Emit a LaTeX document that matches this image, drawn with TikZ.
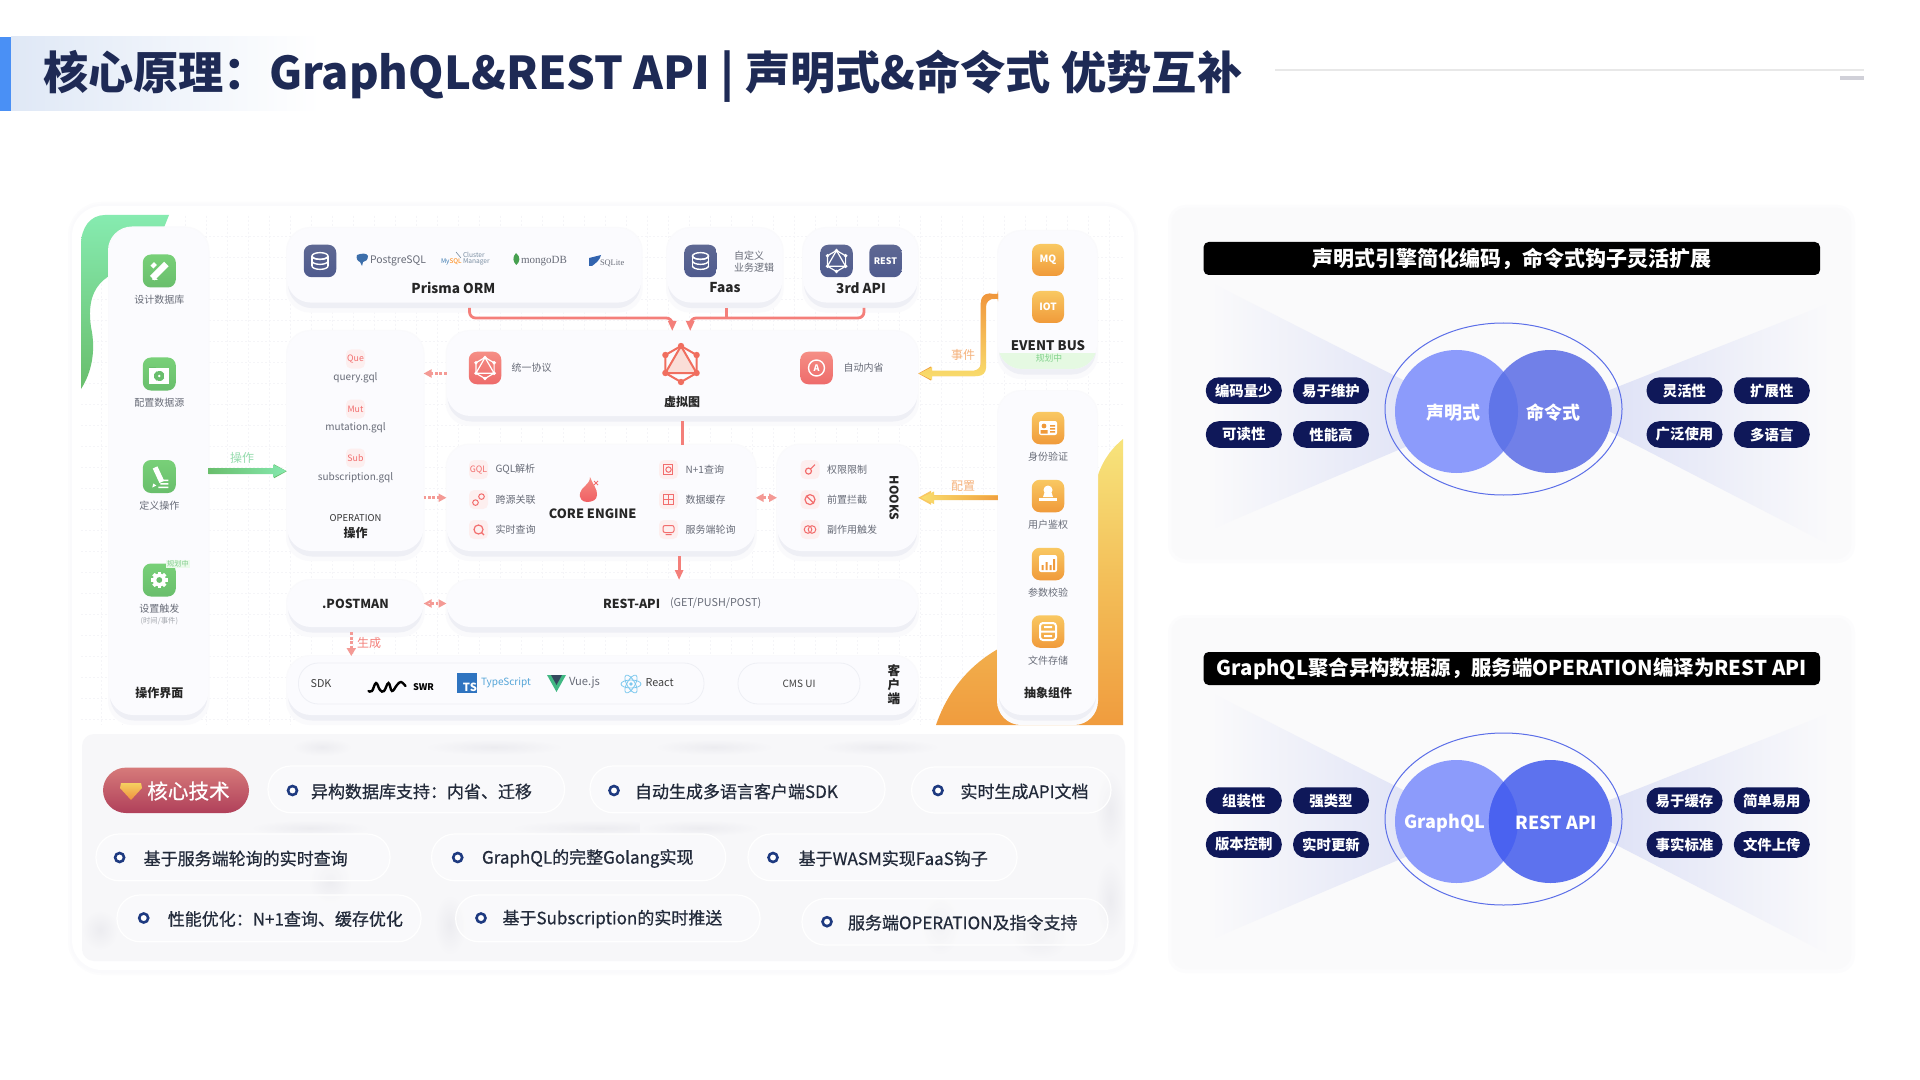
\documentclass[tikz,border=0pt]{standalone}
\usepackage{fontspec}
\setmainfont{Noto Sans CJK SC}
\newfontfamily\medf[FakeBold=0.7]{Noto Sans CJK SC}
\newfontfamily\serf{Liberation Serif}
\usetikzlibrary{arrows.meta,calc,shapes.geometric}
\newcommand\hc[2]{\definecolor{#1}{HTML}{#2}}
\hc{navy}{1E2A55}\hc{pilln}{0F1859}\hc{redc}{F47F7A}\hc{redd}{F49A95}\hc{grayt}{686C78}\hc{cardf}{FBFBFE}
\hc{shdA}{EEEFF5}\hc{shdB}{FAFAFC}\hc{shdC}{FCFCFD}\hc{orgA}{F9C862}\hc{orgB}{F09A3A}\hc{grnA}{78D078}\hc{grnB}{69BE6C}
\hc{bluA}{5E6893}\hc{bluB}{4F5B8E}\hc{rdA}{F58E85}\hc{rdB}{EE6B6B}\hc{tagf}{FDEFEF}\hc{tagt}{F26D6D}
\hc{ringc}{5B6EE8}\hc{panf}{FAFAFB}\hc{wedge}{D9DDF5}\hc{ghost}{ECECF0}\hc{lowf}{F7F7F9}\hc{dotc}{1E3A80}\hc{pillt}{222A3A}
\hc{hdrA}{DFE8F6}\hc{hdrB}{4A90F5}\hc{lineG}{E8E8E8}\hc{dashG}{D0D0D8}\hc{gridc}{F5F5F8}\hc{gtop}{86EBB0}
\hc{oTop}{F7E47C}\hc{oBot}{F09C3E}\hc{oMid}{F3BE58}\hc{planF}{EAFAEA}\hc{planT}{82CD8C}
\hc{pgc}{3C6EAA}\hc{myc}{3C7AB0}\hc{clc}{788CA0}\hc{mgc}{46A050}\hc{sqc}{3264AF}
\hc{stripF}{E5F9E2}\hc{stripT}{82D28C}\hc{tri}{FADED8}\hc{gqlR}{F06E5F}\hc{flA}{F58C82}\hc{flB}{F05F64}
\hc{tsc}{2F74C0}\hc{tst}{55A5D8}\hc{vuA}{41B883}\hc{vuB}{35495E}\hc{rec}{7CC8EE}
\hc{grL}{96DCAE}\hc{grR}{85E8AE}\hc{evA}{F0963C}\hc{evB}{F9DE6E}\hc{orL}{F5B27C}\hc{cfB}{F0A040}
\hc{coA}{D67A7A}\hc{coB}{B0405A}\hc{diA}{F5D060}\hc{diB}{F09040}
\hc{rA}{7180E8}\hc{lA}{6075E8}\hc{rB}{5D72EE}\hc{lB}{4A62F0}\hc{aL}{8C9BFB}\hc{bL}{8C9BFB}
\newcounter{tc}
\tikzset{
  fz/.style={font=\fontsize{#1}{#1}\selectfont},
  fzb/.style={font=\fontsize{#1}{#1}\selectfont\bfseries},
  fzm/.style={font=\fontsize{#1}{#1}\selectfont\medf},
  txtn/.style={inner sep=0pt,outer sep=0pt,text=grayt},
  cardn/.style={fill=cardf,rounded corners=12pt,inner sep=0pt,outer sep=0pt},
  icbase/.style={rounded corners=4pt,inner sep=0pt,outer sep=0pt,shade},
  icg/.style={icbase,top color=grnA,bottom color=grnB},
  icn/.style={icbase,top color=bluA,bottom color=bluB},
  icr/.style={icbase,top color=rdA,bottom color=rdB},
  ico/.style={icbase,top color=orgA,bottom color=orgB},
  tagn/.style={fill=tagf,rounded corners=2.5pt,inner sep=0pt,outer sep=0pt,minimum size=9.5pt},
  redl/.style={draw=redc,line width=1.4pt,rounded corners=3pt},
  reda/.style={redl,-{Triangle[length=5pt,width=4pt]}},
  dotl/.style={draw=redd,line width=1.4pt,dash pattern=on 1.4pt off 0.8pt},
  pillw/.style={fill=white,fill opacity=.35,draw=white,line width=.6pt,rounded corners=11.5pt,inner sep=0pt,outer sep=0pt},
  navypill/.style={fill=pilln,rounded corners=6.5pt,inner sep=0pt,outer sep=0pt,minimum width=38pt,minimum height=13.3pt,text=white,font=\fontsize{7.2pt}{7.2pt}\selectfont\bfseries},
}
\newcommand\lbl[4][]{\stepcounter{tc}\node[txtn,#1] (t\arabic{tc}) at (#2,#3) {#4};}
\newcommand\card[5]{%
  \fill[shdB,rounded corners=12pt] ({#2-1},{#3-1}) rectangle ({#4+1},{#5+10});
  \fill[shdA,rounded corners=12pt] ({#2+1},{#3+4}) rectangle ({#4-1},{#5+5.5});
  \node[cardn,minimum width={(#4-#2)*.5pt},minimum height={(#5-#3)*.5pt}] (#1) at ({(#2+#4)/2},{(#3+#5)/2}) {};}
\newcommand\icon[5]{\node[#5,minimum size={#4*.5pt}] (#1) at (#2,#3) {};}
\newcommand\dbg[3]{%
  \begin{scope}[shift={(#1,#2)}]
  \foreach \yy in {5,0,-5}{\draw[white,line width=.7pt] (-#3,\yy) arc[start angle=180,end angle=0,x radius=#3,y radius=#3*.42];}
  \draw[white,line width=.7pt] (0,-5) ellipse[x radius=#3,y radius=#3*.42];
  \draw[white,line width=.7pt] (-#3,-5) -- (-#3,5) (#3,-5) -- (#3,5);
  \end{scope}}
\newcommand\gql[6]{%
  \begin{scope}[shift={(#1,#2)}]
  \draw[#4,line width=#6] (90:#3) -- (150:#3) -- (210:#3) -- (270:#3) -- (330:#3) -- (30:#3) -- cycle;
  \draw[#4,line width=#6] (270:#3) -- (150:#3) -- (30:#3) -- cycle;
  \foreach \a in {90,150,210,270,330,30}{\fill[#4] (\a:#3) circle (#5);}
  \end{scope}}
\newcommand\gear[5]{%
  \begin{scope}[shift={(#1,#2)}]
  \foreach \a in {0,45,90,135}{\fill[#4,rotate=\a] (-1.8,{-#3-1.8}) rectangle (1.8,{#3+1.8});}
  \fill[#4] (0,0) circle (#3);\fill[#5] (0,0) circle ({#3*.45});
  \end{scope}}
\newcommand\tagtx[4]{\node[tagn,text=tagt,font=\fontsize{4.4pt}{4.4pt}\selectfont] (#1) at (#2,#3) {#4};}
\newcommand\dotpill[9]{%
  \node[pillw,minimum width={(#4-#2)*.5pt},minimum height={(#5-#3)*.5pt}] (#1) at ({(#2+#4)/2},{(#3+#5)/2}) {};
  \stepcounter{tc}\node[circle,draw=dotc,line width=1.3pt,fill=white,minimum size=4.5pt,inner sep=0pt] (d\arabic{tc}) at (#6,#8) {};
  \lbl[anchor=west,text=pillt,fzm=8.5pt]{#7}{#8+1}{#9}}
\newcommand\vennpanel[9]{%
  \begin{scope}[shift={(0,#2)}]
  \fill[shdC,rounded corners=9pt] (1168,205) rectangle (1855,563);
  \node[fill=panf,rounded corners=7pt,minimum width=339.75pt,minimum height=175.5pt,inner sep=0pt] (#1card) at (1511.25,383.5) {};
  \node[fill=black,rounded corners=2.5pt,minimum width=308.2pt,minimum height=16.5pt,inner sep=0pt,text=white] (#1title) at (1511.8,258.5) {\raisebox{-.5pt}{#3}};
  \shade[left color=panf,right color=wedge] (1210,282) -- (1476,417) -- (1210,530) -- cycle;
  \shade[left color=wedge,right color=panf] (1830,303) -- (1564,408) -- (1830,545) -- cycle;
  \node[ellipse,draw=ringc,line width=.5pt,minimum width=118.5pt,minimum height=86pt,inner sep=0pt] (#1ring) at (1503.5,409) {};
  \node[circle,fill=#1L,minimum size=61.5pt,inner sep=0pt] (#1left) at (1456.5,411.5) {};
  \node[circle,fill=#6,minimum size=61.5pt,inner sep=0pt] (#1right) at (1550.4,411.5) {};
  \begin{scope}\clip (1456.5,411.5) circle (61.5);\fill[#7] (1550.4,411.5) circle (61.5);\end{scope}
  \lbl[text=white,#8]{\venLx}{412.7}{#4}
  \lbl[text=white,#9]{\venRx}{412.7}{#5}
  \end{scope}}
\newcommand\navyset[9]{%
  \begin{scope}[shift={(0,#2)}]
  \node[navypill] (#1a) at (1243.8,390.6) {#3};
  \node[navypill] (#1b) at (1331,390.6) {#4};
  \node[navypill] (#1c) at (1243.8,434.5) {#5};
  \node[navypill] (#1d) at (1331,434.5) {#6};
  \node[navypill] (#1e) at (1684.5,390.6) {#7};
  \node[navypill] (#1f) at (1771.8,390.6) {#8};
  \node[navypill] (#1g) at (1684.5,434.5) {#9};
  \node[navypill] (#1h) at (1771.8,434.5) {\eighth};
  \end{scope}}
\begin{document}
\begin{tikzpicture}[x=.5pt,y=-.5pt]
\useasboundingbox (0,0) rectangle (1920,1080);
\fill[white] (0,0) rectangle (1920,1080);
% ---------- header
\shade[left color=hdrA,right color=white] (11,37) rectangle (320,111);
\fill[hdrB] (0,37) rectangle (11,111);
\node[txtn,anchor=west,text=navy,fzb=22.6pt] (title) at (43,76) {核心原理：GraphQL\&REST API | 声明式\&命令式 优势互补};
\coordinate (hlA) at (1275,70);
\coordinate (hlB) at (1864,70);
\draw[line width=1pt,lineG] (hlA) -- (hlB);
\fill[dashG] (1840,76) rectangle (1864,80);
% ---------- main card
\fill[shdC,rounded corners=17pt] (68,202) rectangle (1138,975);
\fill[shdB,rounded corners=16pt] (70,204) rectangle (1136,973);
\fill[white,rounded corners=15pt] (72,206) rectangle (1134,970);
\fill[lowf,rounded corners=6pt] (82,734) rectangle (1125,961);
\begin{scope}
\clip[rounded corners=6pt] (82,734) rectangle (1125,961);
\foreach \gx/\gy/\gw/\gh in {322/747/30/9,494/747/70/8,714/747/60/8,880/747/60/8,310/828/60/8,600/828/90/8,700/828/60/8,330/880/22/24,1110/810/15/40,1110/900/15/40,100/930/18/20,450/925/16/30,940/925/20/30,1040/935/30/24}{
  \shade[shading=radial,inner color=ghost,outer color=lowf] ({\gx-\gw},{\gy-\gh}) rectangle ({\gx+\gw},{\gy+\gh});}
\end{scope}
\foreach \gx in {101,122,...,1123}{\draw[gridc,line width=.3pt,dash pattern=on 1pt off 1pt] (\gx,216) -- (\gx,725);}
\foreach \gy in {236,257,...,725}{\draw[gridc,line width=.3pt,dash pattern=on 1pt off 1pt] (81,\gy) -- (1123,\gy);}
\shade[top color=gtop,bottom color=grnB] (81,389) .. controls (92,372) and (96,350) .. (91,327) .. controls (87,300) and (95,285) .. (109,276) -- (163,230) -- (169,215) -- (105,215) .. controls (90,215) and (81,228) .. (81,245) -- cycle;
\shade[top color=oTop,bottom color=oBot,middle color=oMid] (936,725) .. controls (948,690) and (970,665) .. (998,649) -- (1098,475) .. controls (1103,460) and (1112,448) .. (1123,439) -- (1123,725) -- cycle;
% ---------- cards
\card{leftp}{109}{227.5}{208.5}{715}
\card{prisma}{287}{228}{641.7}{302.6}
\card{faas}{667}{228}{782.7}{302.6}
\card{third}{803}{228}{918}{302.6}
\card{evb}{998}{231}{1097}{369}
\card{absp}{998}{391}{1097}{715}
\card{vg}{446.5}{331}{918}{416}
\card{oper}{287}{331}{423.6}{551}
\card{core}{446.5}{444.5}{755.7}{551}
\card{hooks}{777}{444.5}{918}{551}
\card{post}{287}{580}{423.6}{627}
\card{rest}{446.5}{580}{918}{627}
\card{client}{287}{656}{918}{715}
\node[draw=shdA,line width=.4pt,fill=cardf,rounded corners=10pt,minimum width=202.8pt,minimum height=20.5pt,inner sep=0pt] (sdkp) at (501.2,683.5) {};
\node[draw=shdA,line width=.4pt,fill=cardf,rounded corners=10pt,minimum width=61pt,minimum height=20.5pt,inner sep=0pt] (cmsp) at (799,683.5) {};
% ---------- left panel
\icon{ig1}{159.3}{271}{33}{icg}
\icon{ig2}{159.3}{374}{33}{icg}
\icon{ig3}{159.3}{476.5}{33}{icg}
\icon{ig4}{159.3}{580}{33}{icg}
\begin{scope}[shift={(ig1)}]
  \fill[white,rotate=45] (-10,-3.2) rectangle (10,3.2);
  \fill[white] (-7,9) -- (-1.5,9) -- (-7,3) -- cycle;
  \fill[white,rotate=45] (-2.5,-10) rectangle (2.5,-6);
\end{scope}
\begin{scope}[shift={(ig2)}]
  \fill[white] (-10,-6) rectangle (10,10);
  \fill[grnB] (-10,-7) rectangle (-3,-6);
  \gear{0}{2}{3.2}{grnB}{white}
\end{scope}
\begin{scope}[shift={(ig3)}]
  \fill[white,rotate=25] (-2.6,-10) rectangle (2.6,6);
  \fill[white] (-7,11) -- (-3,9) -- (-6,7) -- cycle;
  \fill[white] (0,3) rectangle (9,4.5) (1,6.5) rectangle (9,8) (-1,10) rectangle (9,11.5);
\end{scope}
\gear{159.3}{580}{6.5}{white}{grnB}
\lbl[fz=5pt]{159.3}{300}{设计数据库}
\lbl[fz=5pt]{159.3}{403}{配置数据源}
\lbl[fz=5pt]{159.3}{505.5}{定义操作}
\lbl[fz=5pt]{159.3}{609}{设置触发}
\lbl[fz=3.7pt,text=grayt!60]{159.3}{621.5}{(时间/事件)}
\node[fill=planF,inner sep=.4pt,text=planT,fz=3.6pt] (plan1) at (178,564) {规划中};
\lbl[fzb=6pt,text=black!85]{159.3}{692.5}{操作界面}
% ---------- prisma row
\icon{ip}{320}{261}{32.5}{icn}
\dbg{320}{261}{8}
\fill[pgc] (357,255) .. controls (362,253) and (367,253) .. (368,256) .. controls (368,260) and (365,262) .. (363,262) -- (362,266) -- (360,262) .. controls (357,261) and (356,258) .. (357,255) -- cycle;
\lbl[anchor=west,fz=5.2pt,text=grayt]{370}{261}{PostgreSQL}
\lbl[anchor=west,fz=3.2pt,text=myc]{441}{261.5}{My\textcolor{orange}{SQL}}
\lbl[anchor=west,fz=3.3pt,text=clc]{463}{255}{Cluster}
\lbl[anchor=west,fz=3.3pt,text=clc]{463}{261.5}{Manager}
\draw[clc,line width=.3pt] (456,252) -- (461,258);
\fill[mgc] (516,253) .. controls (521,257) and (520,262) .. (516.3,265) .. controls (513,262) and (512,257) .. (516,253) -- cycle;
\lbl[anchor=west,font=\fontsize{5.5pt}{5.5pt}\selectfont\serf,text=grayt]{521}{261}{mongoDB}
\fill[sqc] (589,258) -- (601,255) .. controls (600,260) and (596,263) .. (592,266) -- (589,266) -- cycle;
\lbl[anchor=west,font=\fontsize{4.2pt}{4.2pt}\selectfont\serf,text=grayt]{600}{263.5}{SQLite}
\lbl[fzb=6.8pt,text=black!85]{453.4}{288}{Prisma ORM}
\icon{if}{700.5}{261}{32.5}{icn}
\dbg{700.5}{261}{8}
\lbl[anchor=west,fz=5pt]{725}{256}{\hspace*{.9em}自定义}
\lbl[anchor=west,fz=5pt]{725}{268}{\hspace*{.9em}业务逻辑}
\lbl[fzb=6.8pt,text=black!85]{725}{288}{Faas}
\icon{it1}{836.5}{261}{32.5}{icn}
\gql{836.5}{261}{10.5}{white}{1.9}{.6pt}
\node[icn,minimum size=16.25pt,text=white,fzb=4.5pt] (it2) at (885.5,261) {REST};
\lbl[fzb=6.8pt,text=black!85]{861}{288}{3rd API}
\node[ico,minimum size=16pt,text=white,fzb=5pt] (imq) at (1048,260) {MQ};
\node[ico,minimum size=16pt,text=white,fzb=5pt] (iiot) at (1048,307) {IOT};
\lbl[fzb=6.6pt,text=black!85]{1048}{345.7}{EVENT BUS}
\begin{scope}
\clip[rounded corners=12pt] (998,231) rectangle (1097,369);
\fill[stripF] (998,353) rectangle (1097,369);
\end{scope}
\lbl[fz=4.4pt,text=stripT]{1049}{358.5}{规划中}
% ---------- virtual graph
\icon{iv1}{485}{368}{32.5}{icr}
\gql{485}{368}{10.5}{white}{1.9}{.6pt}
\lbl[anchor=west,fz=5pt]{511.5}{368}{统一协议}
\fill[tri] (681,346) -- (665.4,373) -- (696.6,373) -- cycle;
\gql{681}{364}{18}{gqlR}{3.2}{1pt}
\lbl[fzb=6pt,text=black!85]{682}{401.5}{虚拟图}
\icon{iv2}{816.5}{368}{32.5}{icr}
\draw[white,line width=.7pt] (816.5,368) circle (8);
\lbl[fzb=4.5pt,text=white]{816.5}{368}{A}
\lbl[anchor=west,fz=5pt]{843.5}{368}{自动内省}
% ---------- operation
\tagtx{q1}{355.5}{359}{Que}
\tagtx{q2}{355.5}{409}{Mut}
\tagtx{q3}{355.5}{458}{Sub}
\lbl[fz=5pt]{355.5}{378}{query.gql}
\lbl[fz=5pt]{355.5}{428}{mutation.gql}
\lbl[fz=5pt]{355.5}{477.5}{subscription.gql}
\lbl[fz=4.7pt,text=black!80]{355.5}{518.5}{OPERATION}
\lbl[fzb=6pt,text=black!85]{355.5}{533}{操作}
% ---------- core engine
\tagtx{c1}{478.5}{469.6}{GQL}
\node[tagn] (c2) at (478.5,499.6) {};
\node[tagn] (c3) at (478.5,529.5) {};
\draw[tagt,line width=.5pt] ($(c2)+(-3,3)$) circle (2.8) ($(c2)+(3,-3)$) circle (2.8);
\draw[tagt,line width=.6pt] (c3) circle (4.5) ($(c3)+(3,3)$) -- ($(c3)+(5.5,5.5)$);
\lbl[anchor=west,fz=5pt]{495.5}{469.6}{GQL解析}
\lbl[anchor=west,fz=5pt]{495.5}{499.6}{跨源关联}
\lbl[anchor=west,fz=5pt]{495.5}{529.5}{实时查询}
\shade[top color=flA,bottom color=flB] (590,477) .. controls (592,483) and (598,490) .. (597,495) .. controls (597,500) and (592,502) .. (587,502) .. controls (582,502) and (579,498) .. (580,493) .. controls (581,487) and (590,485) .. (590,477) -- cycle;
\draw[tagt,line width=.4pt] (594,481) -- (598,485) (598,481) -- (594,485);
\lbl[fzb=6.4pt,text=black!85]{592.7}{514}{CORE ENGINE}
\node[tagn] (c4) at (668.5,469.6) {};
\node[tagn] (c5) at (668.5,499.6) {};
\node[tagn] (c6) at (668.5,529.5) {};
\draw[tagt,line width=.5pt] ($(c4)+(-5,-5)$) rectangle ($(c4)+(4,5)$);
\draw[tagt,line width=.5pt] (c4) circle (2.7);
\draw[tagt,line width=.5pt] ($(c5)+(-5,-5)$) rectangle ($(c5)+(5,5)$) ($(c5)+(-5,0)$) -- ($(c5)+(5,0)$) ($(c5)+(0,-5)$) -- ($(c5)+(0,5)$);
\draw[tagt,line width=.5pt,rounded corners=1pt] ($(c6)+(-5.5,-4)$) rectangle ($(c6)+(5.5,3)$) ($(c6)+(-3,5)$) -- ($(c6)+(3,5)$);
\lbl[anchor=west,fz=5pt]{685.7}{469.6}{N+1查询}
\lbl[anchor=west,fz=5pt]{685.7}{499.6}{数据缓存}
\lbl[anchor=west,fz=5pt]{685.7}{529.5}{服务端轮询}
% ---------- hooks
\node[tagn] (h1) at (810,469.6) {};
\node[tagn] (h2) at (810,499.6) {};
\node[tagn] (h3) at (810,529.5) {};
\draw[tagt,line width=.6pt] ($(h1)+(-1.5,1.5)$) circle (3) ($(h1)+(1,-1)$) -- ($(h1)+(5,-5)$);
\draw[tagt,line width=.6pt] (h2) circle (5) ($(h2)+(-3.5,-3.5)$) -- ($(h2)+(3.5,3.5)$);
\draw[tagt,line width=.5pt] ($(h3)+(-2,0)$) circle (3.8) ($(h3)+(2,0)$) circle (3.8);
\lbl[anchor=west,fz=5pt]{827}{469.6}{权限限制}
\lbl[anchor=west,fz=5pt]{827}{499.6}{前置拦截}
\lbl[anchor=west,fz=5pt]{827}{529.5}{副作用触发}
\lbl[fzb=6pt,rotate=-90,text=black!85]{894}{498}{HOOKS}
% ---------- rest row
\lbl[fzb=6.2pt,text=black!85]{355.5}{603.6}{.POSTMAN}
\lbl[anchor=west,fzb=6.2pt,text=black!85]{603}{603.6}{REST-API}
\lbl[anchor=west,fz=5.4pt]{670}{603.6}{(GET/PUSH/POST)}
% ---------- client
\lbl[fz=5.4pt,text=black!75]{321}{684}{SDK}
\draw[black,line width=1.2pt,line cap=round] plot[smooth,tension=.7] coordinates {(368.5,691) (372,691) (376,683) (380,690) (384,691) (388.5,683) (392,691) (397,685) (401,682) (405.5,686)};
\lbl[fzb=4.6pt,text=black]{423.5}{687}{SWR}
\node[fill=tsc,minimum width=10pt,minimum height=9.8pt,inner sep=0pt] (tsb) at (467,683.2) {};
\lbl[fzb=5.6pt,text=white]{470}{687}{TS}
\lbl[anchor=west,fz=5pt,text=tst]{481}{682.5}{TypeScript}
\fill[vuA] (547,675) -- (566,675) -- (556.5,692) -- cycle;
\fill[vuB] (551,675) -- (562,675) -- (556.5,685) -- cycle;
\lbl[anchor=west,fz=5.6pt,text=grayt]{569}{683}{Vue.js}
\foreach \ra in {0,60,120}{\draw[rec,line width=.4pt,rotate around={\ra:(631,684)}] (631,684) ellipse (10 and 4);}
\fill[rec] (631,684) circle (1.8);
\lbl[anchor=west,fz=5.4pt,text=black!75]{645.5}{683}{React}
\lbl[fz=5pt,text=black!75]{799}{684}{CMS UI}
\lbl[align=center,text=black!85,font=\fontsize{6.3pt}{6pt}\selectfont\bfseries]{894}{685}{客\\户\\端}
% ---------- abstract components
\icon{a1}{1048}{428}{32.5}{ico}
\icon{a2}{1048}{496}{32.5}{ico}
\icon{a3}{1048}{564}{32.5}{ico}
\icon{a4}{1048}{631.5}{32.5}{ico}
\fill[white,rounded corners=1pt] (1039,421) rectangle (1057,435);
\fill[orgB] (1044,426) circle (2.4) (1040.5,433.5) rectangle (1047.5,430);
\fill[orgB] (1050,425) rectangle (1055,426.5) (1050,428) rectangle (1055,429.5) (1050,431) rectangle (1055,432.5);
\fill[white] (1048,490) circle (4.5) (1045,491) -- (1051,491) -- (1053,497) -- (1043,497) -- cycle;
\fill[white] (1039,498) rectangle (1057,501);
\fill[white,rounded corners=1pt] (1039,555) rectangle (1057,572);
\fill[orgB] (1041.5,565) rectangle (1043.5,570) (1045.5,562) rectangle (1047.5,570) (1049.5,565) rectangle (1051.5,570) (1053,559) rectangle (1055,570);
\draw[white,line width=1pt,rounded corners=1.5pt] (1040,623) rectangle (1056,640);
\fill[white] (1040,630.5) rectangle (1056,632.5) (1044,626) rectangle (1052,628) (1044,635) rectangle (1052,637);
\lbl[fz=5pt]{1048}{457}{身份验证}
\lbl[fz=5pt]{1048}{525}{用户鉴权}
\lbl[fz=5pt]{1048}{593}{参数校验}
\lbl[fz=5pt]{1048}{661}{文件存储}
\lbl[fzb=6pt,text=black!85]{1048}{692.5}{抽象组件}
% ---------- connectors
\draw[reda] ([xshift=2.6pt,yshift=-2.7pt]prisma.south) |- ([xshift=-5pt,yshift=6.5pt]vg.north) -- ([xshift=-5pt]vg.north);
\draw[reda] ([xshift=1.75pt,yshift=-2.7pt]third.south) |- ([xshift=4pt,yshift=6.5pt]vg.north) -- ([xshift=4pt]vg.north);
\draw[redl] ([xshift=1pt,yshift=-2.7pt]faas.south) -- ++(0,10);
\draw[redl] ([yshift=-2.7pt]vg.south) -- (vg.south |- core.north);
\draw[reda] ([xshift=39pt,yshift=-2.7pt]core.south) -- ([xshift=39pt]core.south |- rest.north);
\draw[dotl,-{Triangle[length=4pt,width=4pt]}] (vg.west) -- (vg.west -| oper.east);
\draw[dotl,-{Triangle[length=4pt,width=4pt]}] (oper.east |- core.west) -- (core.west);
\draw[dotl,{Triangle[length=4pt,width=4pt,open]}-{Triangle[length=4pt,width=4pt]}] (post.east) -- (rest.west);
\draw[dotl,{Triangle[length=4pt,width=4pt]}-{Triangle[length=4pt,width=4pt]}] (core.east) -- (hooks.west);
\draw[dotl,-{Triangle[length=4pt,width=4.5pt]}] ([xshift=-2pt,yshift=-2.7pt]post.south) -- ([xshift=-2pt]post.south |- client.north);
\lbl[fz=6pt,text=redc]{369}{643}{生成}
\draw[grnB,line width=3pt,-{Triangle[length=6.5pt,width=6.5pt]}] (leftp.east) -- (leftp.east -| oper.west);
\shade[left color=grnB,right color=grR] (208.5,468) -- (273,468) -- (273,464.5) -- (286,471) -- (273,477.5) -- (273,474) -- (208.5,474) -- cycle;
\lbl[fz=6pt,text=grL]{242}{458}{操作}
\draw[orgB,line width=2.5pt,rounded corners=4pt,-{Triangle[length=6.5pt,width=6.5pt]}] ([yshift=1.8pt]evb.west) -- ++(-15,0) |- (vg.east);
\shade[top color=evA,bottom color=evB,rounded corners=4pt] (998,293.5) -- (981,293.5) -- (981,370.7) [sharp corners] -- (932,370.7) -- (932,367) -- (919,373.5) -- (932,380) -- (932,376) [rounded corners=4pt] -- (986,376) -- (986,298.7) -- (998,298.7) -- cycle;
\lbl[fz=6pt,text=orL]{963}{355}{事件}
\draw[orgA,line width=2.5pt,-{Triangle[length=6.5pt,width=6.5pt]}] (absp.west |- hooks.east) -- (hooks.east);
\shade[left color=evB,right color=cfB] (998,495.5) -- (934,495.5) -- (934,491.5) -- (921,497.75) -- (934,504) -- (934,500) -- (998,500) -- cycle;
\lbl[fz=6pt,text=orL]{963}{486}{配置}
% ---------- bottom tech
\node[inner sep=0pt,rounded corners=11.5pt,shade,top color=coA,bottom color=coB,minimum width=73pt,minimum height=22.7pt] (corep) at (176,790.3) {};
\shade[top color=diA,bottom color=diB] (121,783) -- (141,783) -- (142,788) -- (131,800) -- (120,788) -- cycle;
\lbl[fzm=10.3pt,text=white]{188.5}{791}{核心技术}
\dotpill{p1}{268}{766}{564.5}{812.7}{292.5}{311}{790.5}{异构数据库支持：内省、迁移}
\dotpill{p2}{590}{766}{885}{812.7}{614}{635}{790.5}{自动生成多语言客户端SDK}
\dotpill{p3}{911.6}{767}{1111}{813}{938}{960.5}{790.5}{实时生成API文档}
\dotpill{p4}{96}{834}{390}{880.7}{119.6}{143.7}{857.5}{基于服务端轮询的实时查询}
\dotpill{p5}{431.6}{834}{725.6}{880.7}{457.7}{482}{857.5}{GraphQL的完整Golang实现}
\dotpill{p6}{748}{834}{1017}{880.7}{773}{798.6}{857.5}{基于WASM实现FaaS钩子}
\dotpill{p7}{117}{895}{421}{941.7}{143.7}{167.8}{918}{性能优化：N+1查询、缓存优化}
\dotpill{p8}{455.7}{895}{760}{941.7}{481}{502.5}{918}{基于Subscription的实时推送}
\dotpill{p9}{802}{898.7}{1108}{945}{827}{848}{921.7}{服务端OPERATION及指令支持}
% ---------- right panels
\def\venLx{1453}\def\venRx{1553}
\vennpanel{a}{0}{\fontsize{10.5pt}{10.5pt}\selectfont\bfseries 声明式引擎简化编码，命令式钩子灵活扩展}{声明式}{命令式}{rA}{lA}{fzb=9pt}{fzb=9pt}
\def\eighth{多语言}
\navyset{na}{0}{编码量少}{易于维护}{可读性}{性能高}{灵活性}{扩展性}{广泛使用}
\def\venLx{1444.7}\def\venRx{1556}
\vennpanel{b}{410}{\fontsize{10.2pt}{10.2pt}\selectfont\bfseries GraphQL聚合异构数据源，服务端OPERATION编译为REST API}{GraphQL}{REST API}{rB}{lB}{fzb=9pt}{fzb=9pt}
\def\eighth{文件上传}
\navyset{nb}{410}{组装性}{强类型}{版本控制}{实时更新}{易于缓存}{简单易用}{事实标准}
\end{tikzpicture}
\end{document}
